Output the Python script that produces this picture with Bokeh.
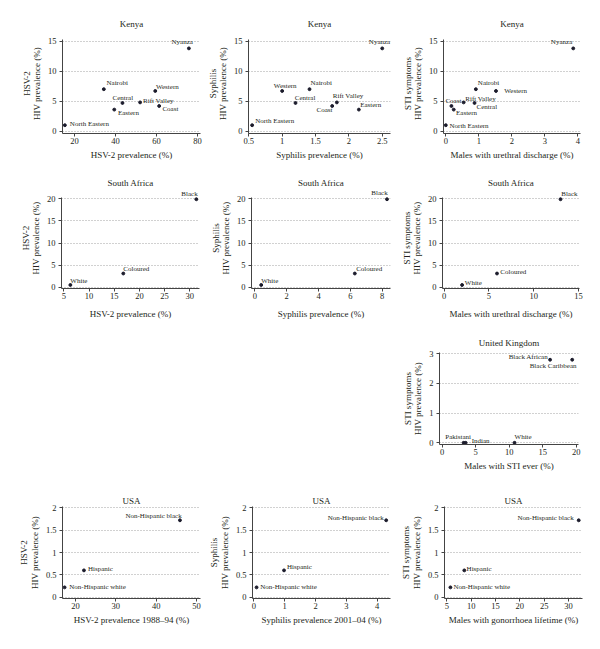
from bokeh.plotting import figure
from bokeh.layouts import column, row, Spacer
from bokeh.models import Range1d, ColumnDataSource, FixedTicker, NumeralTickFormatter, LabelSet
from bokeh.embed import file_html
from bokeh.resources import INLINE
from bokeh.core.properties import value, field

FONT = "Liberation Serif"
INK = "#231f20"

# ---------------- data ----------------
kenya_regions = ["Nyanza", "Nairobi", "Western", "Central", "Rift Valley", "Coast", "Eastern", "North Eastern"]
kenya_hiv = [13.8, 7.0, 6.7, 4.7, 4.8, 4.2, 3.6, 1.0]
kenya_hsv2 = [75.8, 34.3, 59.4, 43.4, 52.0, 61.3, 39.4, 15.3]
kenya_syphilis = [2.50, 1.41, 1.00, 1.20, 1.82, 1.75, 2.15, 0.55]
kenya_discharge = [3.86, 0.91, 1.52, 0.87, 0.54, 0.17, 0.24, 0.0]

sa_groups = ["Black", "Coloured", "White"]
sa_hiv = [19.9, 3.1, 0.5]
sa_hsv2 = [31.3, 16.8, 6.3]
sa_syphilis = [8.3, 6.28, 0.4]
sa_discharge = [13.0, 5.9, 2.0]

uk_groups = ["Black African", "Black Caribbean", "Pakistani", "Indian", "White"]
uk_hiv = [2.8, 2.8, 0.0, 0.0, 0.0]
uk_sti = [16.1, 19.4, 3.2, 3.5, 10.8]

usa_groups = ["Non-Hispanic black", "Hispanic", "Non-Hispanic white"]
usa_hiv = [1.72, 0.6, 0.22]
usa_hsv2 = [45.9, 22.1, 17.3]
usa_syphilis = [4.29, 0.98, 0.09]
usa_gonorrhoea = [32.1, 8.6, 5.75]

# tick labels
kenya_yticks = [0, 5, 10, 15]
sa_yticks = [0, 5, 10, 15, 20]
uk_yticks = [0, 1, 2, 3]
usa_yticks = [0, 0.5, 1, 1.5, 2]
hsv2_kenya_xticks = [20, 40, 60, 80]
syph_kenya_xticks = [0.5, 1, 1.5, 2, 2.5]
disch_kenya_xticks = [0, 1, 2, 3, 4]
hsv2_sa_xticks = [5, 10, 15, 20, 25, 30]
syph_sa_xticks = [0, 2, 4, 6, 8]
disch_sa_xticks = [0, 5, 10, 15]
uk_xticks = [0, 5, 10, 15, 20]
hsv2_usa_xticks = [20, 30, 40, 50]
syph_usa_xticks = [0, 1, 2, 3, 4]
gon_usa_xticks = [5, 10, 15, 20, 25, 30]

# ---------------- label placement (style; dy in screen px, + = down) ----------------
L, R = "left", "right"
off_k1 = [(R, 4, -6.7), (L, 2.7, -6), (L, 0.7, -4), (L, -10, -4.7), (L, 3, -1.3), (L, 3.3, 2.7), (L, 3.7, 3.7), (L, 5, -1.3)]
off_k2 = [(R, 8, -6.7), (L, 1, -6), (L, -8.3, -4.7), (L, -0.7, -4.7), (L, -4, -6), (R, 0.3, 4), (L, 1.3, -4.3), (L, 3, -4.3)]
off_k3 = [(R, -1, -6), (L, 2, -6), (L, 8.3, 0), (L, 2, 4), (L, 1.7, -3.3), (L, -6, -5), (L, 2.3, 3.3), (L, 3.7, 1)]
off_s1 = [(R, 1.3, -5), (L, 0, -5), (L, 0, -4.3)]
off_s2 = [(R, 0.7, -6.3), (L, 1.3, -5), (L, 0, -4.3)]
off_s3 = [(L, 0.7, -5.7), (L, 3.3, -1.3), (L, 2.7, -2.3)]
off_uk = [(R, -2, -3), (R, 4.3, 6.3), (L, -18.3, -5.7), (L, 6, -1.7), (L, 0, -5.7)]
off_u1 = [(R, 1.7, -4.7), (L, 4, -1), (L, 4.7, -0.7)]
off_u2 = [(R, -2.3, -2.7), (L, 3, -3), (L, 3.7, -0.7)]
off_u3 = [(R, -5, -2.7), (L, 2.3, -1.3), (L, 3, -0.7)]


def panel(title, ylab2, xlab, xs, ys, labels, offs, xr, yr, yaxis_top, xticks, yticks,
          fw, fh, bl, br, bt, bb, title_standoff, xlab_standoff):
    p = figure(frame_width=fw, frame_height=fh,
               min_border_left=bl, min_border_right=br, min_border_top=bt, min_border_bottom=bb,
               x_range=Range1d(*xr), y_range=Range1d(*yr),
               output_backend="svg", toolbar_location=None, title=title)
    p.title.align = "center"
    p.title.text_font = FONT
    p.title.text_font_size = "9px"
    p.title.text_font_style = "normal"
    p.title.text_color = INK
    p.title.standoff = title_standoff
    p.outline_line_color = None
    p.background_fill_color = "white"
    p.border_fill_color = "white"
    p.xgrid.grid_line_color = None
    p.ygrid.grid_line_color = "#8a8a8a"
    p.ygrid.grid_line_dash = "1 2"
    p.ygrid.grid_line_width = 0.8
    for ax, ticks in ((p.xaxis, xticks), (p.yaxis, yticks)):
        ax.ticker = FixedTicker(ticks=ticks)
        ax.formatter = NumeralTickFormatter(format="0.[0]")
        ax.minor_tick_line_color = None
        ax.major_tick_in = 0
        ax.major_tick_out = 3
        ax.axis_line_color = "#444"
        ax.major_tick_line_color = "#444"
        ax.major_label_text_font = FONT
        ax.major_label_text_font_size = "8.5px"
        ax.major_label_text_color = INK
        ax.axis_label_text_font = FONT
        ax.axis_label_text_font_size = "9px"
        ax.axis_label_text_font_style = "normal"
        ax.axis_label_text_color = INK
    p.yaxis.bounds = (yr[0], yaxis_top)
    p.xaxis.major_label_standoff = 1
    p.yaxis.major_label_standoff = 3
    p.xaxis.axis_label_standoff = xlab_standoff
    p.yaxis.axis_label_standoff = 3
    p.xaxis.axis_label = xlab
    p.yaxis.axis_label = ylab2 + "\nHIV prevalence (%)"
    p.yaxis.axis_label_text_line_height = 1.05
    src = ColumnDataSource(dict(x=xs, y=ys, label=labels,
                                align=[o[0] for o in offs],
                                dx=[o[1] for o in offs],
                                dy=[-o[2] for o in offs]))
    p.scatter("x", "y", source=src, size=2.9, color="#1c1c2c")
    p.add_layout(LabelSet(x="x", y="y", text="label", source=src,
                          x_offset=field("dx"), y_offset=field("dy"),
                          text_align=field("align"), text_baseline="middle",
                          text_font=value(FONT), text_font_size=value("7px"), text_color=INK))
    return p


# row 1 (0 -> 165); frame 33..133, axis line drawn only up to the plotted range
K_YR = (-0.38, 16.28)
p1 = panel("Kenya", "HSV-2", "HSV-2 prevalence (%)", kenya_hsv2, kenya_hiv, kenya_regions, off_k1,
           (14.15, 81.46), K_YR, 15.25, hsv2_kenya_xticks, kenya_yticks, 138, 100, 62, 3, 33, 32, 9, 3)
p2 = panel("Kenya", "Syphilis", "Syphilis prevalence (%)", kenya_syphilis, kenya_hiv, kenya_regions, off_k2,
           (0.4955, 2.624), K_YR, 15.25, syph_kenya_xticks, kenya_yticks, 142, 100, 45, 8, 33, 32, 9, 3)
p3 = panel("Kenya", "STI symptoms", "Males with urethral discharge (%)", kenya_discharge, kenya_hiv, kenya_regions, off_k3,
           (-0.07, 4.08), K_YR, 15.25, disch_kenya_xticks, kenya_yticks, 137, 100, 45, 12, 33, 32, 9, 3)

# row 2 (165 -> 322); frame 187..288
S_YR = (-0.29, 22.56)
p4 = panel("South Africa", "HSV-2", "HSV-2 prevalence (%)", sa_hsv2, sa_hiv, sa_groups, off_s1,
           (4.54, 31.92), S_YR, 20.36, hsv2_sa_xticks, sa_yticks, 138, 101, 61, 4, 22, 34, 0, 7)
p5 = panel("South Africa", "Syphilis", "Syphilis prevalence (%)", sa_syphilis, sa_hiv, sa_groups, off_s2,
           (-0.21, 8.52), S_YR, 20.36, syph_sa_xticks, sa_yticks, 139, 101, 48, 8, 22, 34, 0, 7)
p6 = panel("South Africa", "STI symptoms", "Males with urethral discharge (%)", sa_discharge, sa_hiv, sa_groups, off_s3,
           (-0.19, 15.12), S_YR, 20.36, disch_sa_xticks, sa_yticks, 137, 101, 43, 14, 22, 34, 0, 7)

# row 3 (322 -> 480)
p9 = panel("United Kingdom", "STI symptoms", "Males with STI ever (%)", uk_sti, uk_hiv, uk_groups, off_uk,
           (-0.4, 20.34), (-0.057, 3.044), 3.044, uk_xticks, uk_yticks, 139, 92, 41, 14, 30, 36, 9, 3)

# row 4 (480 -> 641)
U_YR = (-0.029, 2.029)
p10 = panel("USA", "HSV-2", "HSV-2 prevalence 1988\u201394 (%)", usa_hsv2, usa_hiv, usa_groups, off_u1,
            (16.78, 50.99), U_YR, 2.029, hsv2_usa_xticks, usa_yticks, 138, 92, 62, 3, 26, 43, 2, 3)
p11 = panel("USA", "Syphilis", "Syphilis prevalence 2001\u201304 (%)", usa_syphilis, usa_hiv, usa_groups, off_u2,
            (-0.042, 4.43), U_YR, 2.029, syph_usa_xticks, usa_yticks, 138, 92, 49, 8, 26, 43, 2, 3)
p12 = panel("USA", "STI symptoms", "Males with gonorrhoea lifetime (%)", usa_gonorrhoea, usa_hiv, usa_groups, off_u3,
            (4.53, 32.88), U_YR, 2.029, gon_usa_xticks, usa_yticks, 138, 92, 42, 14, 26, 43, 2, 3)

layout = column(
    row(p1, p2, p3),
    row(p4, p5, p6),
    row(Spacer(width=398, height=158), p9),
    row(p10, p11, p12),
)

open("out.html", "w").write(file_html(layout, INLINE))
